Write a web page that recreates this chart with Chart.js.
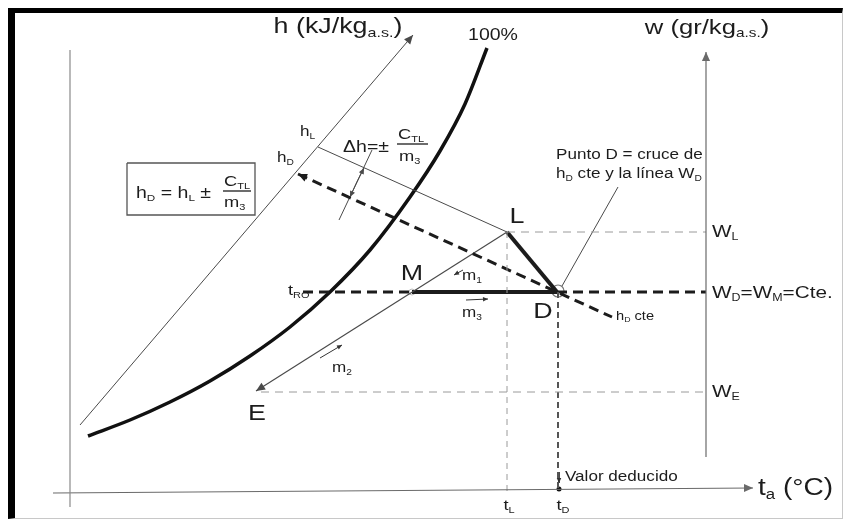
<!DOCTYPE html>
<html>
<head>
<meta charset="utf-8">
<script src="https://cdn.jsdelivr.net/npm/chart.js@4/dist/chart.umd.min.js"></script>
<style>
  html, body { margin: 0; padding: 0; background: #fff; }
  #wrap { position: relative; width: 847px; height: 520px; }
  #frame {
    position: absolute; left: 8px; top: 8px; width: 835px; height: 511px;
    box-sizing: border-box; pointer-events: none;
    border-left: 7px solid #000; border-top: 5px solid #000;
    border-right: 1px solid #c8c8c8; border-bottom: 1px solid #c8c8c8;
  }
</style>
</head>
<body>
<div id="wrap">
  <canvas id="c" width="847" height="520"></canvas>
  <div id="frame"></div>
</div>
<script>
// Diagram units: t runs left to right, w runs bottom to top.

// Saturation curve (100 %)
const saturationT = [88, 130, 170, 210, 250, 290, 330, 370, 410, 440, 465, 487];
const saturationW = [84, 100, 118, 139, 164, 193, 228, 270, 323, 369, 416, 472];

// State points
const stateNames = ['L', 'D', 'M', 'E'];
const stateT = [507, 557, 412, 256];
const stateW = [288, 228, 228, 129];

// Enthalpy axis and the constant-enthalpy lines
const hAxisT = [80, 413];
const hAxisW = [95, 485];
const hLineT = [318, 507];
const hLineW = [373, 288];
const hDLineT = [298, 557, 612];
const hDLineW = [346, 228, 203];

// Δh dimension between hL and hD
const deltaT = [372, 339];
const deltaW = [370, 300];
const deltaMidT = 357, deltaMidW = 338;
const deltaEndT = [364, 350];
const deltaEndW = [352, 323];

// Axes
const tAxisT = [53, 753];
const tAxisW = [27, 32];
const leftAxisT = [70, 70];
const leftAxisW = [470, 13];
const wAxisT = [706, 706];
const wAxisW = [63, 468];

// Callout towards D
const calloutT = [618, 562];
const calloutW = [333, 234];

// Flow arrows of m1, m3, m2 and the "valor deducido" marker
const flowArrowT = [[463, 454], [466, 488], [320, 342], [559, 559]];
const flowArrowW = [[250, 245], [220, 221], [162, 175], [48, 37]];

// Formula box and fraction bars
const boxT = [127, 255, 255, 127, 127];
const boxW = [357, 357, 305, 305, 357];
const fracBarT = [[223, 251], [397, 428]];
const fracBarW = [[329, 329], [376, 376]];

// Texts and their anchors
const labelText = [
  'h (kJ/kg_{a.s.})', 'w (gr/kg_{a.s.})', '100%', 'h_{L}', 'h_{D}',
  'Δh=±', 'C_{TL}', 'm_{3}', 'h_{D} = h_{L} ±', 'C_{TL}', 'm_{3}',
  'Punto D = cruce de', 'h_{D} cte y la línea W_{D}',
  'L', 'M', 'D', 'E', 't_{RO}', 'm_{1}', 'm_{3}', 'm_{2}', 'h_{D} cte',
  'W_{L}', 'W_{D}=W_{M}=Cte.', 'W_{E}', 'Valor deducido', 't_{a} (°C)', 't_{L}', 't_{D}'
];
const labelT = [338, 707, 493, 300, 277, 343, 398, 399, 136, 224, 224, 556, 556,
  517, 412, 543, 257, 288, 462, 462, 332, 616, 712, 712, 712, 565, 758, 509, 563];
const labelW = [495, 494, 486, 389, 363, 374, 386, 364, 328, 339, 318, 366, 347,
  305, 248, 210, 108, 230, 245, 208, 153, 204, 289, 228, 129, 44, 33, 15, 15];

const labelSize = [22, 21, 16, 14, 14, 16, 15, 15, 16, 15, 15, 14, 14,
  22, 22, 22, 22, 15, 14, 14, 14, 12, 17, 17, 17, 14, 23, 15, 15];
const centered = new Set([0, 1, 2, 13, 14, 15, 16, 27, 28]);
const TEXT_STRETCH = 1.22;

const INK = '#1c1c1c';
const THIN = '#4a4a4a';
const GUIDE = '#9a9a9a';

function pts(ts, ws) { return ts.map((t, i) => ({ x: t, y: ws[i] })); }
function seg(ts, ws, opts) {
  return Object.assign({
    data: pts(ts, ws), showLine: true, pointRadius: 0, fill: false,
    borderColor: THIN, borderWidth: 1, tension: 0
  }, opts || {});
}
const st = n => stateNames.indexOf(n);
const T = n => stateT[st(n)], W = n => stateW[st(n)];

const datasets = [
  // axes
  seg(leftAxisT, leftAxisW, { borderColor: '#8a8a8a', borderWidth: 1.2 }),
  seg(tAxisT, tAxisW, { borderColor: '#6a6a6a', borderWidth: 1.2, arrowEnd: 9 }),
  seg(wAxisT, wAxisW, { borderColor: '#6a6a6a', borderWidth: 1.2, arrowEnd: 9 }),
  seg(hAxisT, hAxisW, { borderColor: THIN, borderWidth: 1, arrowEnd: 9 }),
  // guide lines
  seg([T('L'), wAxisT[0]], [W('L'), W('L')], { borderColor: GUIDE, borderDash: [8, 6] }),
  seg([T('E') + 5, wAxisT[0]], [W('E') - 1, W('E') - 1], { borderColor: GUIDE, borderDash: [8, 6] }),
  seg([T('L'), T('L')], [W('L'), tAxisW[0] + 2], { borderColor: GUIDE, borderDash: [6, 5] }),
  seg([T('D') + 1, T('D') + 1], [W('D'), tAxisW[0] + 3], { borderColor: '#555', borderWidth: 2, borderDash: [6, 4] }),
  // enthalpy lines
  seg(hLineT, hLineW, { borderColor: THIN, borderWidth: 1 }),
  seg(hDLineT, hDLineW, { borderColor: INK, borderWidth: 3, borderDash: [10, 6], arrowStart: 9 }),
  seg(deltaT, deltaW, { borderColor: THIN, borderWidth: 1 }),
  seg([deltaMidT, deltaEndT[0]], [deltaMidW, deltaEndW[0]], { borderColor: THIN, borderWidth: 1, arrowEnd: 6 }),
  seg([deltaMidT, deltaEndT[1]], [deltaMidW, deltaEndW[1]], { borderColor: THIN, borderWidth: 1, arrowEnd: 6 }),
  // mixing line L - M - E
  seg([T('L'), T('E')], [W('L'), W('E')], { borderColor: THIN, borderWidth: 1.2, arrowEnd: 9 }),
  // constant w line through M and D
  seg([303, T('M')], [W('M'), W('M')], { borderColor: INK, borderWidth: 3, borderDash: [10, 6] }),
  seg([T('M'), T('D')], [W('M'), W('D')], { borderColor: INK, borderWidth: 4 }),
  seg([T('D'), wAxisT[0]], [W('D'), W('D')], { borderColor: INK, borderWidth: 3, borderDash: [10, 6] }),
  // L -> D process
  seg([T('L'), T('D')], [W('L'), W('D')], { borderColor: INK, borderWidth: 4 }),
  // callout
  seg(calloutT, calloutW, { borderColor: THIN, borderWidth: 1 }),
  // saturation curve
  seg(saturationT, saturationW, { borderColor: '#111', borderWidth: 3.5, tension: 0.4, cubicInterpolationMode: 'monotone' }),
  // formula box and fraction bars
  seg(boxT, boxW, { borderColor: '#555', borderWidth: 1.3 }),
  ...fracBarT.map((ts, i) => seg(ts, fracBarW[i], { borderColor: INK, borderWidth: 1.3 })),
  // flow arrows
  ...flowArrowT.map((ts, i) => seg(ts, flowArrowW[i], { borderColor: '#333', borderWidth: 1, arrowEnd: 5 })),
  // point markers
  { data: [{ x: T('D') + 1, y: W('D') + 1 }], showLine: false, pointRadius: 6, pointBorderWidth: 1.2,
    pointBorderColor: '#777', pointBackgroundColor: 'rgba(255,255,255,0)' },
  { data: [{ x: T('M'), y: W('M') }], showLine: false, pointRadius: 3, pointBorderWidth: 1,
    pointBorderColor: '#bbb', pointBackgroundColor: 'rgba(255,255,255,0)' },
  { data: [{ x: T('D') + 2, y: tAxisW[0] + 4 }], showLine: false, pointRadius: 2.5,
    pointBorderWidth: 0, pointBackgroundColor: '#111' }
];

function arrowHead(ctx, from, to, len, color) {
  const a = Math.atan2(to.y - from.y, to.x - from.x);
  const w = len * 0.45;
  ctx.save();
  ctx.fillStyle = color;
  ctx.beginPath();
  ctx.moveTo(to.x, to.y);
  ctx.lineTo(to.x - len * Math.cos(a) + w * Math.sin(a), to.y - len * Math.sin(a) - w * Math.cos(a));
  ctx.lineTo(to.x - len * Math.cos(a) - w * Math.sin(a), to.y - len * Math.sin(a) + w * Math.cos(a));
  ctx.closePath();
  ctx.fill();
  ctx.restore();
}

// Text with _{...} subscripts, drawn slightly widened
function drawRich(ctx, str, x, y, size, align) {
  const parts = [];
  const re = /_\{([^}]*)\}/g;
  let last = 0, m;
  while ((m = re.exec(str))) {
    if (m.index > last) parts.push({ t: str.slice(last, m.index), sub: false });
    parts.push({ t: m[1], sub: true });
    last = re.lastIndex;
  }
  if (last < str.length) parts.push({ t: str.slice(last), sub: false });
  const font = s => `${s}px "Liberation Sans", Arial, sans-serif`;
  let total = 0;
  parts.forEach(p => {
    ctx.font = font(p.sub ? size * 0.6 : size);
    p.w = ctx.measureText(p.t).width * TEXT_STRETCH;
    total += p.w;
  });
  let cx = align === 'center' ? x - total / 2 : x;
  const base = y + size * 0.36;
  ctx.textBaseline = 'alphabetic';
  parts.forEach(p => {
    ctx.font = font(p.sub ? size * 0.6 : size);
    ctx.save();
    ctx.translate(cx, p.sub ? base + size * 0.18 : base);
    ctx.scale(TEXT_STRETCH, 1);
    ctx.fillText(p.t, 0, 0);
    ctx.restore();
    cx += p.w;
  });
}

const diagramPlugin = {
  id: 'diagramPlugin',
  afterDatasetsDraw(chart) {
    const ctx = chart.ctx;
    chart.data.datasets.forEach((ds, i) => {
      const els = chart.getDatasetMeta(i).data;
      if (els.length < 2) return;
      if (ds.arrowEnd) arrowHead(ctx, els[els.length - 2], els[els.length - 1], ds.arrowEnd, ds.borderColor);
      if (ds.arrowStart) arrowHead(ctx, els[1], els[0], ds.arrowStart, ds.borderColor);
    });
    const xs = chart.scales.x, ys = chart.scales.y;
    ctx.save();
    ctx.fillStyle = INK;
    labelText.forEach((txt, i) => {
      drawRich(ctx, txt, xs.getPixelForValue(labelT[i]), ys.getPixelForValue(labelW[i]),
        labelSize[i], centered.has(i) ? 'center' : 'left');
    });
    ctx.restore();
  }
};

new Chart(document.getElementById('c'), {
  type: 'scatter',
  data: { datasets },
  options: {
    responsive: false,
    animation: false,
    layout: { padding: 0, autoPadding: false },
    plugins: { legend: { display: false }, tooltip: { enabled: false } },
    elements: { line: { borderCapStyle: 'butt' } },
    scales: {
      x: { type: 'linear', min: 0, max: 847, display: false },
      y: { type: 'linear', min: 0, max: 520, display: false }
    }
  },
  plugins: [diagramPlugin]
});
</script>
</body>
</html>
